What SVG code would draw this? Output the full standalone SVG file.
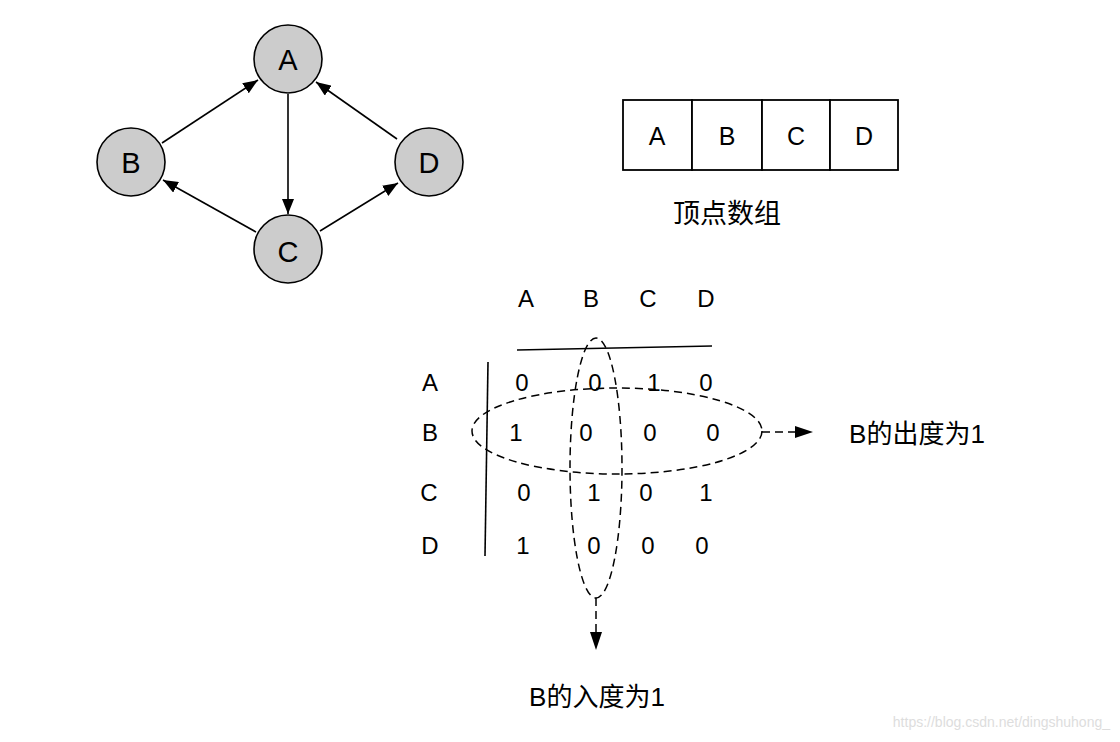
<svg xmlns="http://www.w3.org/2000/svg" width="1120" height="742" viewBox="0 0 1120 742">
<style>
.t{font-family:"Liberation Sans","Noto Sans CJK SC",sans-serif;fill:#000;text-anchor:middle}
.n{fill:#ccc;stroke:#000;stroke-width:1.6}
.e{stroke:#000;stroke-width:1.6;fill:none}
.d{stroke:#000;stroke-width:1.5;fill:none;stroke-dasharray:8 5}
.cell{fill:#fff;stroke:#000;stroke-width:1.8}
</style>
<defs>
<marker id="ah" markerWidth="15" markerHeight="12" refX="15" refY="6" orient="auto" markerUnits="userSpaceOnUse">
<path d="M0,0 L15,6 L0,12 Z" fill="#000"/>
</marker>
<marker id="ah2" markerWidth="18" markerHeight="12" refX="18" refY="6" orient="auto" markerUnits="userSpaceOnUse">
<path d="M0,0 L18,6 L0,12 Z" fill="#000"/>
</marker>
</defs>
<rect width="1120" height="742" fill="#fff"/>
<g id="edges">
<line class="e" x1="162" y1="143" x2="258" y2="80" marker-end="url(#ah)"/>
<line class="e" x1="288" y1="94" x2="288" y2="214" marker-end="url(#ah)"/>
<line class="e" x1="397" y1="139" x2="316" y2="82" marker-end="url(#ah)"/>
<line class="e" x1="256" y1="232" x2="163" y2="180" marker-end="url(#ah)"/>
<line class="e" x1="320" y1="231" x2="398" y2="183" marker-end="url(#ah)"/>
</g>
<g id="nodeA"><circle class="n" cx="288" cy="59" r="34"/><text class="t" x="288" y="70" font-size="29">A</text></g>
<g id="nodeB"><circle class="n" cx="131" cy="162" r="34"/><text class="t" x="131" y="173" font-size="29">B</text></g>
<g id="nodeD"><circle class="n" cx="429" cy="162" r="34"/><text class="t" x="429" y="173" font-size="29">D</text></g>
<g id="nodeC"><circle class="n" cx="288" cy="249" r="34"/><text class="t" x="288" y="262" font-size="29">C</text></g>
<g id="array">
<rect class="cell" x="623" y="100" width="69" height="70"/>
<rect class="cell" x="692" y="100" width="70" height="70"/>
<rect class="cell" x="762" y="100" width="68" height="70"/>
<rect class="cell" x="830" y="100" width="68" height="70"/>
<text class="t" x="657" y="145" font-size="25">A</text>
<text class="t" x="727" y="145" font-size="25">B</text>
<text class="t" x="796" y="145" font-size="25">C</text>
<text class="t" x="864" y="145" font-size="25">D</text>
<text class="t" x="727" y="223" font-size="27">顶点数组</text>
</g>
<g id="matrix" font-size="24">
<text class="t" x="526" y="307">A</text>
<text class="t" x="591" y="307">B</text>
<text class="t" x="648" y="307">C</text>
<text class="t" x="706" y="307">D</text>
<line class="e" x1="517" y1="350" x2="712" y2="346"/>
<line class="e" x1="488" y1="362" x2="485" y2="556"/>
<text class="t" x="430" y="391">A</text>
<text class="t" x="430" y="441">B</text>
<text class="t" x="429" y="501">C</text>
<text class="t" x="430" y="554">D</text>
<text class="t" x="522" y="391">0</text><text class="t" x="595" y="391">0</text><text class="t" x="654" y="391">1</text><text class="t" x="706" y="391">0</text>
<text class="t" x="516" y="441">1</text><text class="t" x="586" y="441">0</text><text class="t" x="650" y="441">0</text><text class="t" x="713" y="441">0</text>
<text class="t" x="524" y="501">0</text><text class="t" x="594" y="501">1</text><text class="t" x="646" y="501">0</text><text class="t" x="706" y="501">1</text>
<text class="t" x="523" y="554">1</text><text class="t" x="594" y="554">0</text><text class="t" x="648" y="554">0</text><text class="t" x="702" y="554">0</text>
</g>
<g id="outdegree">
<ellipse class="d" cx="617" cy="431" rx="145" ry="43"/>
<line class="d" x1="762" y1="432" x2="813" y2="432" marker-end="url(#ah2)"/>
<text class="t" x="917" y="443" font-size="26">B的出度为1</text>
</g>
<g id="indegree">
<ellipse class="d" cx="596" cy="468" rx="26" ry="130"/>
<line class="d" x1="596" y1="598" x2="596" y2="650" marker-end="url(#ah2)"/>
<text class="t" x="597" y="706" font-size="26">B的入度为1</text>
</g>
<text x="1110" y="727" font-size="14" fill="#ddd" font-family="Liberation Sans,sans-serif" text-anchor="end">https://blog.csdn.net/dingshuhong_</text>
</svg>
